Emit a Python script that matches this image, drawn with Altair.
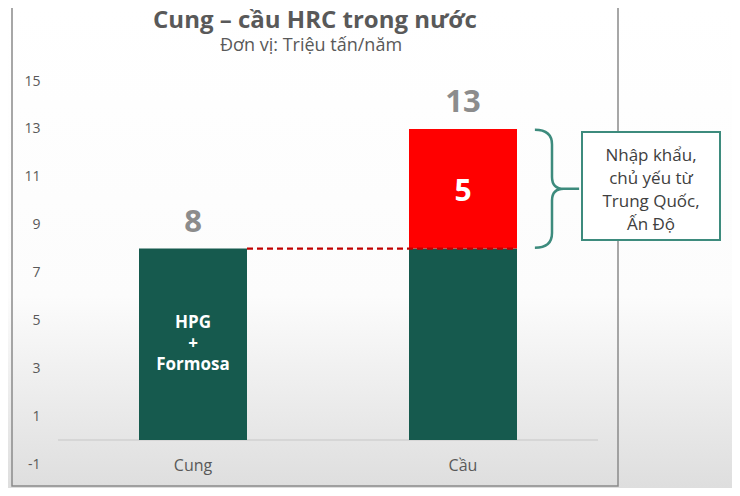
import altair as alt
import pandas as pd

# ---- data ----
categories = ["Cung", "Cầu"]
domestic = [8, 8]          # HPG + Formosa (domestic supply)
imports = [0, 5]           # imports
totals = [d + i for d, i in zip(domestic, imports)]
y_ticks = [-1, 1, 3, 5, 7, 9, 11, 13, 15]
title_text = "Cung – cầu HRC trong nước"
subtitle_text = "Đơn vị: Triệu tấn/năm"
inside_label = "HPG\n+\nFormosa"
callout_text = "Nhập khẩu,\nchủ yếu từ\nTrung Quốc,\nẤn Độ"

GREEN = "#165a4e"
RED = "#ff0000"
TEAL = "#3d8b7d"
GRAY = "#595959"
FONT = "Open Sans"

W, H = 540, 383

rows = []
for c, d, i in zip(categories, domestic, imports):
    rows.append({"cat": c, "seg": "domestic", "y0": 0, "y1": d})
    if i:
        rows.append({"cat": c, "seg": "import", "y0": d, "y1": d + i})
bars_df = pd.DataFrame(rows)
totals_df = pd.DataFrame({"cat": categories, "total": totals})
cat_df = pd.DataFrame({"cat": categories, "y": [-1] * len(categories)})
imp_df = pd.DataFrame({"cat": [categories[1]], "y": [domestic[1] + imports[1] / 2], "t": [str(imports[1])]})
in_df = pd.DataFrame({"cat": [categories[0]], "y": [domestic[0] / 2], "t": [inside_label]})
rule_df = pd.DataFrame({"a": [categories[0]], "b": [categories[1]], "y": [domestic[0]]})
brace_df = pd.DataFrame({"cat": [categories[1]], "y": [domestic[1] + imports[1] / 2]})

xscale = alt.Scale(domain=categories, paddingInner=0.6, paddingOuter=0.3)
yscale = alt.Scale(domain=[-1, 15], nice=False, zero=False)
yaxis = alt.Axis(values=y_ticks, domain=False, ticks=False, grid=False,
                 labelPadding=18, labelFontSize=14, labelColor=GRAY,
                 labelFont=FONT, title=None, zindex=1,
                 labelExpr="'' + datum.value")

X = alt.X("cat:N", scale=xscale, axis=None, sort=categories)

def Y(field):
    return alt.Y(field, scale=yscale, axis=yaxis, title=None)

# background gradient + frame
bg = alt.Chart(pd.DataFrame({"k": [0]})).mark_rect(
    fill=alt.Gradient(gradient="linear", x1=0, x2=0, y1=0, y2=1,
                      stops=[alt.GradientStop(color="#ffffff", offset=0),
                             alt.GradientStop(color="#fcfcfc", offset=0.6),
                             alt.GradientStop(color="#dedede", offset=1)]),
).encode(x=alt.value(-50), x2=alt.value(W + 134), y=alt.value(-73), y2=alt.value(H + 24))

frame = alt.Chart(pd.DataFrame({"k": [0]})).mark_rect(
    fill=None, stroke="#8a8a8a", strokeWidth=1.5
).encode(x=alt.value(-46), x2=alt.value(560), y=alt.value(-90), y2=alt.value(H + 22))

title = alt.Chart(pd.DataFrame({"t": [title_text]})).mark_text(
    font=FONT, fontSize=24, fontWeight="bold", color=GRAY, baseline="alphabetic"
).encode(text="t:N", x=alt.value(257), y=alt.value(-53))

subtitle = alt.Chart(pd.DataFrame({"t": [subtitle_text]})).mark_text(
    font=FONT, fontSize=18, color=GRAY, baseline="alphabetic"
).encode(text="t:N", x=alt.value(253), y=alt.value(-30))

baseline = alt.Chart(pd.DataFrame({"y": [0]})).mark_rule(
    color="#d0d0d0", strokeWidth=1.5
).encode(y=Y("y:Q"), x=alt.value(0), x2=alt.value(W))

bars = alt.Chart(bars_df).mark_bar(stroke=None).encode(
    x=X,
    y=Y("y0:Q"),
    y2="y1:Q",
    color=alt.Color("seg:N", scale=alt.Scale(domain=["domestic", "import"], range=[GREEN, RED]),
                    legend=None),
)

dash = alt.Chart(rule_df).mark_rule(
    color="#c00000", strokeWidth=2.2, strokeDash=[6, 4], xOffset=54, x2Offset=54
).encode(x=alt.X("a:N", scale=xscale, axis=None, sort=categories), x2="b:N",
         y=Y("y:Q"))

tot = alt.Chart(totals_df).mark_text(
    font=FONT, fontSize=31, fontWeight="bold", color="#8c8c8c", baseline="bottom", dy=-10
).encode(x=X, y=Y("total:Q"), text=alt.Text("total:Q"))

imp_lbl = alt.Chart(imp_df).mark_text(
    font=FONT, fontSize=30, fontWeight="bold", color="white", baseline="middle", dy=3
).encode(x=X, y=Y("y:Q"), text="t:N")

in_lbl = alt.Chart(in_df).mark_text(
    font=FONT, fontSize=17, fontWeight="bold", color="white", baseline="middle",
    lineBreak="\n", lineHeight=21, dy=-21
).encode(x=X, y=Y("y:Q"), text="t:N")

cat_lbl = alt.Chart(cat_df).mark_text(
    font=FONT, fontSize=16, color=GRAY, baseline="middle", dy=2
).encode(x=X, y=Y("y:Q"), text="cat:N")

brace_path = ("M -0.29 -1 Q 0 -1 0 -0.75 L 0 -0.2 Q 0 0 0.2 0 L 0.46 0 "
              "M 0.2 0 Q 0 0 0 0.2 L 0 0.75 Q 0 1 -0.29 1")
brace = alt.Chart(brace_df).mark_point(
    shape=brace_path, filled=False, stroke=TEAL, strokeWidth=2.5, size=13924, xOffset=89,
    opacity=1
).encode(x=X, y=Y("y:Q"))

box = alt.Chart(pd.DataFrame({"k": [0]})).mark_rect(
    fill="white", stroke=TEAL, strokeWidth=2
).encode(x=alt.value(524), x2=alt.value(662), y=alt.value(51), y2=alt.value(159))

box_txt = alt.Chart(pd.DataFrame({"t": [callout_text]})).mark_text(
    font=FONT, fontSize=17, color="#404040", baseline="middle", lineBreak="\n", lineHeight=23
).encode(text="t:N", x=alt.value(593), y=alt.value(75))

chart = alt.layer(
    bg, frame, title, subtitle, baseline, bars, dash, tot, imp_lbl, in_lbl, cat_lbl,
    brace, box, box_txt
).properties(
    width=W, height=H,
    autosize=alt.AutoSizeParams(type="none"),
    padding={"left": 50, "top": 73, "right": 134, "bottom": 24},
).configure_view(stroke=None).configure(background="white")

chart.save("out.html", embed_options={"renderer": "svg", "actions": False})
